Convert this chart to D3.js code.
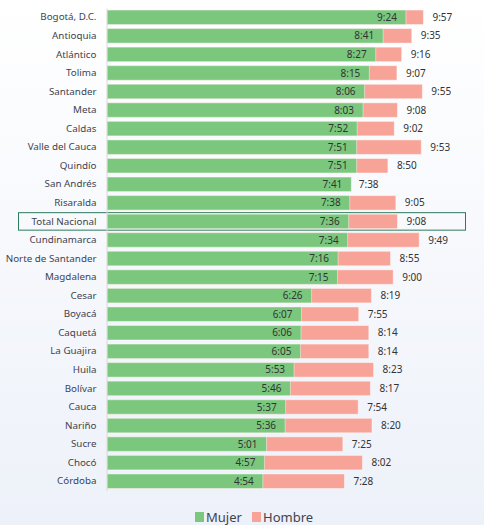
<!DOCTYPE html>
<html>
<head>
<meta charset="utf-8">
<script src="https://cdn.jsdelivr.net/npm/d3@7"></script>
<style>
	html, body { margin: 0; padding: 0; }
	body { width: 484px; height: 525px; overflow: hidden;
		background: linear-gradient(#ffffff, #edf1f9); }
	text { font-family: "Noto Sans", sans-serif; }
</style>
</head>
<body>
<svg id="chart" width="484" height="525"></svg>
<script>
// Horas de trabajo por departamento, mujeres vs hombres (h:mm)
var categories = ["Bogotá, D.C.", "Antioquia", "Atlántico", "Tolima", "Santander", "Meta",
	"Caldas", "Valle del Cauca", "Quindío", "San Andrés", "Risaralda", "Total Nacional",
	"Cundinamarca", "Norte de Santander", "Magdalena", "Cesar", "Boyacá", "Caquetá",
	"La Guajira", "Huila", "Bolívar", "Cauca", "Nariño", "Sucre", "Chocó", "Córdoba"];
var mujer = ["9:24", "8:41", "8:27", "8:15", "8:06", "8:03", "7:52", "7:51", "7:51", "7:41",
	"7:38", "7:36", "7:34", "7:16", "7:15", "6:26", "6:07", "6:06", "6:05", "5:53", "5:46",
	"5:37", "5:36", "5:01", "4:57", "4:54"];
var hombre = ["9:57", "9:35", "9:16", "9:07", "9:55", "9:08", "9:02", "9:53", "8:50", "7:38",
	"9:05", "9:08", "9:49", "8:55", "9:00", "8:19", "7:55", "8:14", "8:14", "8:23", "8:17",
	"7:54", "8:20", "7:25", "8:02", "7:28"];
var seriesNames = ["Mujer", "Hombre"];
var highlighted = "Total Nacional";

var colors = { Mujer: "#7bc77e", Hombre: "#f7a398" };

// "h:mm" -> minutes
function toMinutes(s) {
	var p = s.split(":");
	return +p[0] * 60 + +p[1];
}

var rows = categories.map(function(c, i) {
	return { name: c, mujer: mujer[i], hombre: hombre[i],
		m: toMinutes(mujer[i]), h: toMinutes(hombre[i]) };
});

var svg = d3.select("#chart");

var x = d3.scaleLinear().domain([0, 600]).range([107, 425]);
var y = d3.scaleBand()
	.domain(categories)
	.range([8, 490.5])
	.paddingInner(0.22)
	.paddingOuter(0.11);

// Box around the national total
svg.append("rect")
	.attr("x", 18.5)
	.attr("y", y(highlighted) - 1.5)
	.attr("width", 447)
	.attr("height", y.bandwidth() + 3)
	.attr("fill", "none")
	.attr("stroke", "#2e7a5c")
	.attr("stroke-width", 1);

// Hombre bars behind
svg.selectAll("rect.hombre")
	.data(rows)
	.enter().append("rect")
	.attr("class", "hombre")
	.attr("x", x(0))
	.attr("y", function(d) { return y(d.name); })
	.attr("width", function(d) { return x(d.h) - x(0); })
	.attr("height", y.bandwidth())
	.attr("fill", colors.Hombre)
	.attr("stroke", "rgba(255,255,255,0.45)");

// Mujer bars in front
svg.selectAll("rect.mujer")
	.data(rows)
	.enter().append("rect")
	.attr("class", "mujer")
	.attr("x", x(0))
	.attr("y", function(d) { return y(d.name); })
	.attr("width", function(d) { return x(d.m) - x(0); })
	.attr("height", y.bandwidth())
	.attr("fill", colors.Mujer)
	.attr("stroke", "rgba(255,255,255,0.45)");

// Category axis (left)
var yAxis = svg.append("g")
	.attr("transform", "translate(106.5,0)")
	.call(d3.axisLeft(y).tickSize(0).tickPadding(10));
yAxis.select(".domain").attr("stroke", "#d8d8d8");
yAxis.selectAll("text")
	.attr("fill", "#3f4350")
	.style("font-size", "9.8px")
	.style("font-family", "\"Noto Sans\", sans-serif");

// Value labels: mujer inside the green bar, hombre outside the salmon one
svg.selectAll("text.lblM")
	.data(rows)
	.enter().append("text")
	.attr("class", "lblM")
	.attr("x", function(d) { return x(d.m) - 9; })
	.attr("y", function(d) { return y(d.name) + y.bandwidth() / 2; })
	.attr("dy", "0.36em")
	.attr("text-anchor", "end")
	.attr("fill", "#333")
	.style("font-size", "10px")
	.text(function(d) { return d.mujer; });

svg.selectAll("text.lblH")
	.data(rows)
	.enter().append("text")
	.attr("class", "lblH")
	.attr("x", function(d) { return x(d.h) + 9; })
	.attr("y", function(d) { return y(d.name) + y.bandwidth() / 2; })
	.attr("dy", "0.36em")
	.attr("fill", "#333")
	.style("font-size", "10px")
	.text(function(d) { return d.hombre; });

// Legend
var legend = svg.append("g").attr("transform", "translate(195,511)");
var offsets = [0, 57];
seriesNames.forEach(function(s, i) {
	legend.append("rect")
		.attr("x", offsets[i])
		.attr("y", 1)
		.attr("width", 9)
		.attr("height", 10)
		.attr("fill", colors[s]);
	legend.append("text")
		.attr("x", offsets[i] + 11)
		.attr("y", 10.5)
		.attr("fill", "#3f4350")
		.style("font-size", "13px")
		.text(s);
});
</script>
</body>
</html>
